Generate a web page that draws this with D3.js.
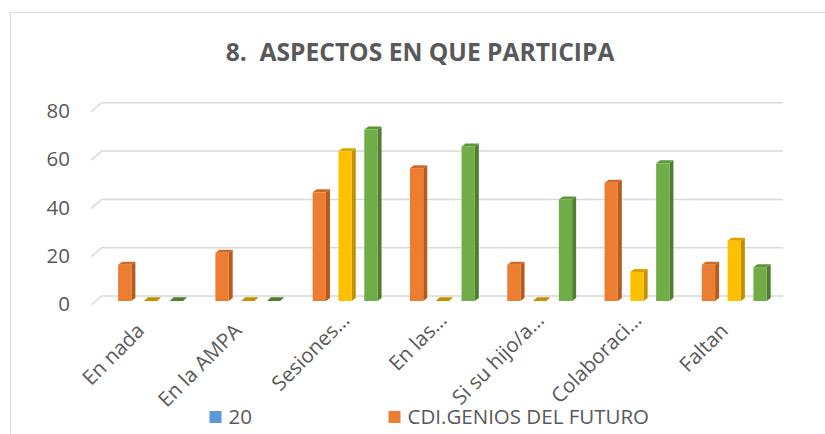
<!DOCTYPE html>
<html>
<head>
<meta charset="utf-8">
<script src="https://cdn.jsdelivr.net/npm/d3@7"></script>
<style>
  body { margin: 0; background: #fff; }
  text { font-family: "Open Sans", sans-serif; fill: #595959; }
</style>
</head>
<body>
<div id="chart"></div>
<script>
// data
const categories = ["En nada", "En la AMPA", "Sesiones…", "En las…", "Si su hijo/a…", "Colaboraci…", "Faltan"];
const seriesNames = ["20", "CDI.GENIOS DEL FUTURO"];   // only these two are visible in the legend
const serie20 = [null, null, null, null, null, null, null];
const serieCDI = [15, 20, 45, 55, 15, 49, 15];
const serie3 = [0, 0, 62, 0, 0, 12, 25];
const serie4 = [0, 0, 71, 64, 42, 57, 14];
const yTicks = [0, 20, 40, 60, 80];

const series = [serie20, serieCDI, serie3, serie4];
const colors = [
  {front: "#5B9BD5", side: "#3F73A3", top: "#4A86BE"},
  {front: "#ED7D31", side: "#B65A1E", top: "#CC6A28"},
  {front: "#FFC000", side: "#C29100", top: "#D9A400"},
  {front: "#70AD47", side: "#4E7E30", top: "#5E9639"}
];

const W = 825, H = 434;
const depthX = 10.7, depthY = 9;      // wall depth (3D floor)
const barDX = 4, barDY = 3;           // bar side/top depth

const svg = d3.select("#chart").append("svg")
    .attr("width", W)
    .attr("height", H);

// chart border
svg.append("rect")
    .attr("x", 10.5).attr("y", 12.5)
    .attr("width", 900).attr("height", 500)
    .attr("fill", "none")
    .attr("stroke", "#D9D9D9");

// title
svg.append("text")
    .attr("x", 420).attr("y", 61)
    .attr("text-anchor", "middle")
    .style("font-weight", "bold")
    .style("font-size", "24.6px")
    .style("white-space", "pre")
    .text("8.  ASPECTOS EN QUE PARTICIPA");

// scales: front plane of floor, back wall, and bars
const yFront = d3.scaleLinear().domain([0, 80]).range([305, 111.8]);
const yBack = d3.scaleLinear().domain([0, 80]).range([305 - depthY, 111.8 - depthY]);
const yBar = d3.scaleLinear().domain([0, 80]).range([301, 301 - 193.2]);

const x0 = d3.scaleBand().domain(categories).range([89, 770]);
const x1 = d3.scaleBand().domain(d3.range(series.length))
    .range([0, 103.2]).paddingInner(0.485).paddingOuter(0.2425);

// gridlines on side wall + back wall
const grid = svg.append("g");
yTicks.forEach(v => {
  grid.append("path")
      .attr("d", `M91,${yFront(v)} L${91 + depthX},${yBack(v)} L783,${yBack(v)}`)
      .attr("fill", "none")
      .attr("stroke", "#D9D9D9")
      .attr("stroke-width", 1.5);
});

// y axis labels
svg.append("g").selectAll("text")
    .data(yTicks)
    .join("text")
    .attr("x", 70)
    .attr("y", d => yFront(d) - 1)
    .attr("dy", "0.35em")
    .attr("text-anchor", "end")
    .style("font-size", "20.5px")
    .text(d => d);

// 3D bars
const bars = svg.append("g");
categories.forEach((cat, i) => {
  const gx = x0(cat) + (x0.bandwidth() - 103.2) / 2;
  series.forEach((vals, j) => {
    const v = vals[i];
    if (v === null || v === undefined) return;
    const c = colors[j];
    const xl = gx + x1(j), xr = xl + x1.bandwidth();
    const yt = yBar(v), yb = yBar(0);
    const dy = v === 0 ? barDY + 0.8 : barDY;
    // side face
    bars.append("path")
        .attr("d", `M${xr},${yb} L${xr + barDX},${yb - dy} L${xr + barDX},${yt - dy} L${xr},${yt} Z`)
        .attr("fill", c.side);
    // top face
    bars.append("path")
        .attr("d", `M${xl},${yt} L${xl + barDX},${yt - dy} L${xr + barDX},${yt - dy} L${xr},${yt} Z`)
        .attr("fill", v === 0 ? c.side : c.top);
    // front face
    if (v > 0) {
      bars.append("rect")
          .attr("x", xl).attr("y", yt)
          .attr("width", xr - xl).attr("height", yb - yt)
          .attr("fill", c.front);
    }
  });
});

// category labels, rotated
svg.append("g").selectAll("text")
    .data(categories)
    .join("text")
    .attr("transform", d => {
      const cut = d.endsWith("…") ? 15 : 0;   // truncated labels sit further along
      const ax = x0(d) + x0.bandwidth() / 2 + 8 + cut * 0.707;
      const ay = 332 - cut * 0.707;
      return `translate(${ax},${ay}) rotate(-45)`;
    })
    .attr("text-anchor", "end")
    .style("font-size", "20.5px")
    .text(d => d);

// legend (first row only fits in the picture)
const legend = svg.append("g");
const legendX = [209.5, 388.5];
seriesNames.forEach((name, k) => {
  legend.append("rect")
      .attr("x", legendX[k]).attr("y", 411)
      .attr("width", 12).attr("height", 12)
      .attr("fill", colors[k].front);
  legend.append("text")
      .attr("x", legendX[k] + 19).attr("y", 423.5)
      .style("font-size", "20.5px")
      .text(name);
});
</script>
</body>
</html>
